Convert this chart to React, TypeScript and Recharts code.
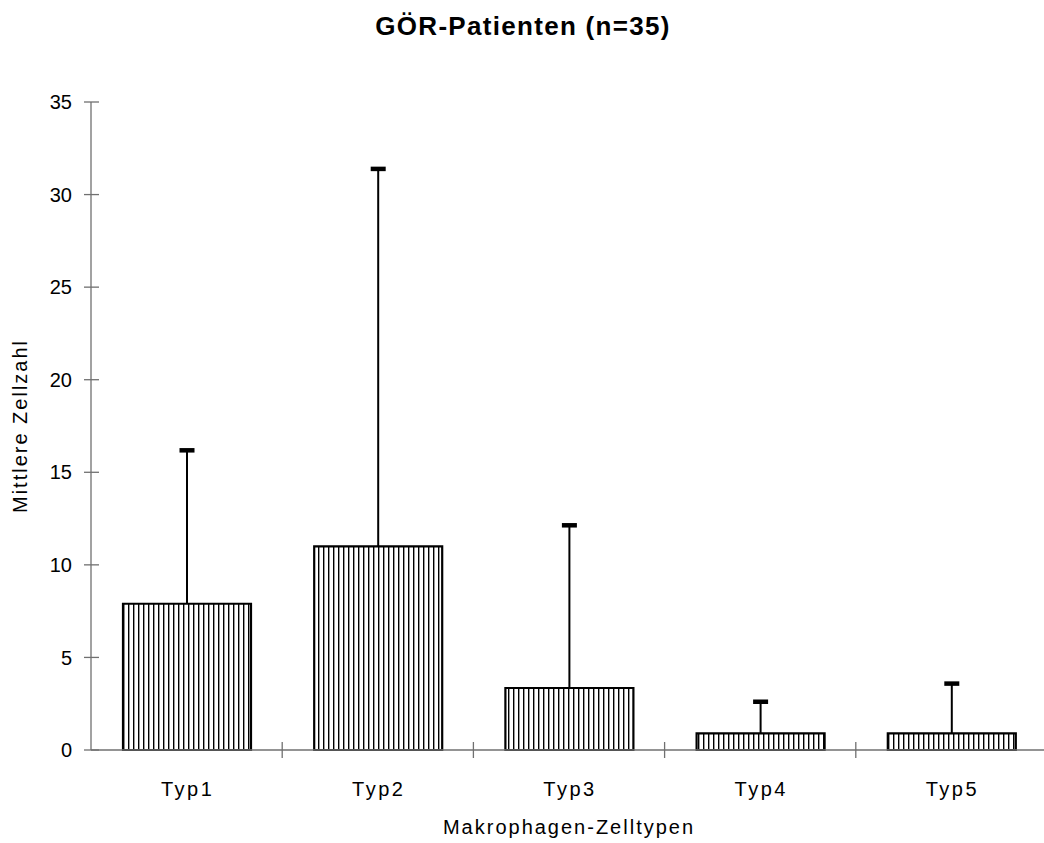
import React from "react";
import { BarChart, Bar, XAxis, YAxis, Label } from "recharts";

const categories = ["Typ1", "Typ2", "Typ3", "Typ4", "Typ5"];
const means = [7.9, 11.0, 3.35, 0.9, 0.9];
const sd = [8.3, 20.4, 8.8, 1.72, 2.7];
const yTicks = [0, 5, 10, 15, 20, 25, 30, 35];

const data = categories.map((c, i) => ({ name: c, mean: means[i], sd: sd[i] }));

const FONT = "'Liberation Sans', Arial, sans-serif";
const AXIS = "#707070";

const YTick = (props: any) => {
  const { x, y, payload } = props;
  return (
    <g>
      <line x1={x - 7} x2={x + 8} y1={y} y2={y} stroke={AXIS} strokeWidth={1.3} />
      <text x={x - 19} y={y} dy="0.36em" textAnchor="end" fontSize={20} fontFamily={FONT} fill="#000">
        {payload.value}
      </text>
    </g>
  );
};

const XTick = (props: any) => {
  const { x, y, payload, index } = props;
  const half = payload.offset || 0;
  return (
    <g>
      {index > 0 && (
        <line x1={x - half} x2={x - half} y1={y - 8} y2={y + 8} stroke={AXIS} strokeWidth={1.3} />
      )}
      <text x={x + 1} y={y + 46} textAnchor="middle" fontSize={20} letterSpacing={2.5} fontFamily={FONT} fill="#000">
        {payload.value}
      </text>
    </g>
  );
};

const ErrShape = (props: any) => {
  const { x, y, width, height } = props;
  const cx = x + width / 2;
  return (
    <g>
      <line x1={cx} x2={cx} y1={y} y2={y + height} stroke="#000" strokeWidth={2} />
      <rect x={cx - 7.5} y={y - 2} width={15} height={4.5} fill="#000" />
    </g>
  );
};

export default function App() {
  return (
    <div style={{ position: "absolute", left: 0, top: 0, width: 1044, height: 843, background: "#fff" }}>
      <svg width={1044} height={50} style={{ position: "absolute", left: 0, top: 0 }}>
        <text x={523} y={35} textAnchor="middle" fontSize={26} letterSpacing={1.3} fontWeight="bold" fontFamily={FONT} fill="#000">
          GÖR-Patienten (n=35)
        </text>
      </svg>
      <BarChart
        width={1044}
        height={843}
        data={data}
        margin={{ top: 102, right: -3, bottom: 33, left: 0 }}
        barSize={128}
        style={{ overflow: "visible" }}
      >
        <defs>
          <pattern id="vstripes" patternUnits="userSpaceOnUse" width={5} height={10} x={123}>
            <rect x={0} y={0} width={5} height={10} fill="#fff" />
            <rect x={0} y={0} width={1.4} height={10} fill="#000" />
          </pattern>
        </defs>
        <YAxis
          type="number"
          domain={[0, 35]}
          ticks={yTicks}
          width={91}
          tickSize={0}
          tickMargin={0}
          tickLine={false}
          axisLine={{ stroke: AXIS, strokeWidth: 1.3 }}
          tick={<YTick />}
          interval={0}
        >
          <Label
            value="Mittlere Zellzahl"
            angle={-90}
            position="insideLeft"
            offset={20}
            style={{ fontSize: 20, letterSpacing: 2, fontFamily: FONT, fill: "#000", textAnchor: "middle" }}
          />
        </YAxis>
        <XAxis
          dataKey="name"
          height={60}
          tickSize={0}
          tickMargin={0}
          tickLine={false}
          axisLine={{ stroke: AXIS, strokeWidth: 1.3 }}
          tick={<XTick />}
          interval={0}
        >
          <Label
            value="Makrophagen-Zelltypen"
            position="insideBottom"
            offset={-24}
            style={{ fontSize: 20, letterSpacing: 2, fontFamily: FONT, fill: "#000" }}
          />
        </XAxis>
        <Bar
          dataKey="mean"
          stackId="a"
          fill="url(#vstripes)"
          stroke="#000"
          strokeWidth={2.2}
          isAnimationActive={false}
        />
        <Bar
          dataKey="sd"
          stackId="a"
          fill="none"
          shape={<ErrShape />}
          isAnimationActive={false}
        />
      </BarChart>
    </div>
  );
}
